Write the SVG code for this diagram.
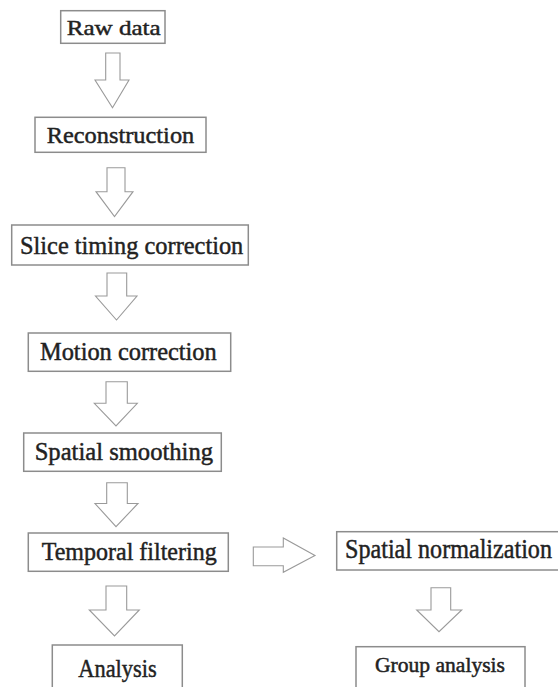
<svg xmlns="http://www.w3.org/2000/svg" width="558" height="687" viewBox="0 0 558 687">
<style>
.box{fill:#fff;stroke:#8c8c8c;stroke-width:1.5}
text{font-family:"Liberation Serif","DejaVu Serif",serif;fill:#222;stroke:#222;stroke-width:0.45}
.arr{fill:#fff;stroke:#9a9a9a;stroke-width:1.1;stroke-linejoin:miter}
</style>
<rect width="558" height="687" fill="#fff"/>
<g id="connectors">
<polygon class="arr" points="105.7,53 120,53 120,80 129,80 112.5,107.7 95,80 105.7,80"/>
<polygon class="arr" points="107,167.7 125,167.7 125,191.7 133,191.7 114.5,216.7 96,191.7 107,191.7"/>
<polygon class="arr" points="107,273 126.7,273 126.7,296 137,296 116.5,320 95.5,296 107,296"/>
<polygon class="arr" points="106,381.7 127.3,381.7 127.3,403.3 137.3,403.3 116,426 94.3,403.3 106,403.3"/>
<polygon class="arr" points="106.7,482.7 127.3,482.7 127.3,503.5 138,503.5 116,526.7 95,503.5 106.7,503.5"/>
<polygon class="arr" points="106,586 126.7,586 126.7,610 139.3,610 114.5,636 89.3,610 106,610"/>
<polygon class="arr" points="253.3,547 283.3,547 283.3,538 315,555.5 283.3,572.3 283.3,565.7 253.3,565.7"/>
<polygon class="arr" points="431,587.7 450.7,587.7 450.7,610 461.7,610 439,631.7 416.7,610 431,610"/>
</g>
<g id="raw-data">
<rect class="box" x="60.7" y="10.7" width="104.3" height="32.6"/>
<text x="66.7" y="35" font-size="22" textLength="94" lengthAdjust="spacingAndGlyphs">Raw data</text>
</g>
<g id="reconstruction">
<rect class="box" x="35" y="117.3" width="171" height="35"/>
<text x="46.7" y="143.3" font-size="24" textLength="147.6" lengthAdjust="spacingAndGlyphs">Reconstruction</text>
</g>
<g id="slice-timing">
<rect class="box" x="11.7" y="225" width="236.6" height="40"/>
<text x="20" y="254.3" font-size="26" textLength="223.3" lengthAdjust="spacingAndGlyphs">Slice timing correction</text>
</g>
<g id="motion-correction">
<rect class="box" x="28.3" y="333" width="202.4" height="38.3"/>
<text x="40" y="359.7" font-size="25" textLength="176.7" lengthAdjust="spacingAndGlyphs">Motion correction</text>
</g>
<g id="spatial-smoothing">
<rect class="box" x="23.7" y="433" width="197.6" height="38.3"/>
<text x="34.7" y="459.7" font-size="25" textLength="178.3" lengthAdjust="spacingAndGlyphs">Spatial smoothing</text>
</g>
<g id="temporal-filtering">
<rect class="box" x="28.3" y="533" width="200" height="38.3"/>
<text x="41.7" y="559.7" font-size="25" textLength="175" lengthAdjust="spacingAndGlyphs">Temporal filtering</text>
</g>
<g id="spatial-normalization">
<rect class="box" x="336.7" y="531.7" width="224" height="38.3"/>
<text x="345" y="558.3" font-size="27" textLength="207" lengthAdjust="spacingAndGlyphs">Spatial normalization</text>
</g>
<g id="analysis">
<rect class="box" x="52.3" y="645" width="130" height="46"/>
<text x="78.3" y="676.7" font-size="25" textLength="78.4" lengthAdjust="spacingAndGlyphs">Analysis</text>
</g>
<g id="group-analysis">
<rect class="box" x="356" y="646.7" width="169" height="46"/>
<text x="375" y="671.7" font-size="20" textLength="130" lengthAdjust="spacingAndGlyphs">Group analysis</text>
</g>
</svg>
